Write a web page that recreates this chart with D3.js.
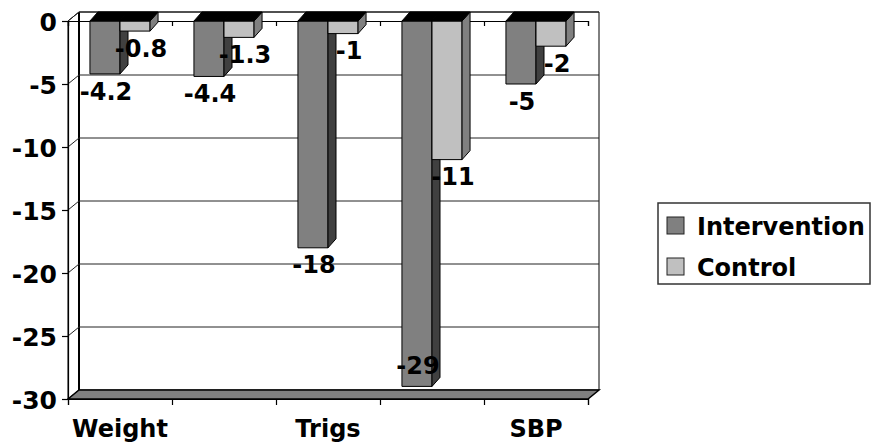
<!DOCTYPE html>
<html>
<head>
<meta charset="utf-8">
<script src="https://cdn.jsdelivr.net/npm/d3@7"></script>
<style>
  html, body { margin: 0; padding: 0; background: #fff; }
  svg { display: block; }
  text { font-family: "DejaVu Sans", Verdana, sans-serif; font-weight: bold; fill: #000; }
</style>
</head>
<body>
<script>
// ---- data ----
const categories = ["Weight", "", "Trigs", "", "SBP"];   // only every other label is shown
const seriesNames = ["Intervention", "Control"];
const intervention = [-4.2, -4.4, -18, -29, -5];
const control = [-0.8, -1.3, -1, -11, -2];
const yTicks = [0, -5, -10, -15, -20, -25, -30];

// ---- layout ----
const W = 872, H = 447;
const plot = { left: 68, right: 588, top: 21, bottom: 399 };
const wall = { dx: 11, dy: -9 };
const depth = { dx: 8, dy: -9 };
const fontSize = 24;
const fmt = v => String(v);   // plain hyphen-minus as in the original

const svg = d3.select("body").append("svg").attr("width", W).attr("height", H);

const y = d3.scaleLinear().domain([d3.min(yTicks), d3.max(yTicks)]).range([plot.bottom, plot.top]);
const idx = d3.range(categories.length);
const x = d3.scaleBand().domain(idx).range([plot.left, plot.right]);
const xEdge = d3.scaleLinear().domain([0, categories.length]).range([plot.left, plot.right]);
const xs = d3.scaleBand().domain(seriesNames).range([0, x.bandwidth()]).paddingInner(0).paddingOuter(0.73);
const color = d3.scaleOrdinal().domain(seriesNames).range(["#808080", "#c0c0c0"]);
const sideColor = d3.scaleOrdinal().domain(seriesNames).range(["#404040", "#808080"]);

const yMin = d3.min(yTicks), yMax = d3.max(yTicks);
const poly = pts => "M" + pts.map(p => p.join(",")).join("L") + "Z";

// ---- walls ----
const bx0 = plot.left + wall.dx, bx1 = plot.right + wall.dx;
const byTop = y(yMax) + wall.dy, byBot = y(yMin) + wall.dy;
svg.append("path").attr("d", poly([[bx0, byTop], [bx1, byTop], [bx1, byBot], [bx0, byBot]]))
  .attr("fill", "#fff").attr("stroke", "#000").attr("stroke-width", 1);
svg.append("path").attr("d", poly([[plot.left, y(yMax)], [bx0, byTop], [bx0, byBot], [plot.left, y(yMin)]]))
  .attr("fill", "#fff").attr("stroke", "#000").attr("stroke-width", 1);
svg.append("line").attr("x1", bx0).attr("x2", bx0).attr("y1", byTop).attr("y2", byBot)
  .attr("stroke", "#000").attr("stroke-width", 2);

// gridlines (back wall + side wall)
const grid = svg.append("g").attr("stroke", "#222").attr("stroke-width", 1).attr("fill", "none");
yTicks.filter(v => v !== yMin).forEach(v => {
  grid.append("path").attr("d", `M${plot.left},${y(v)}L${bx0},${y(v) + wall.dy}H${bx1}`);
});

// floor
svg.append("path").attr("d", poly([[plot.left, y(yMin)], [plot.right, y(yMin)], [bx1, byBot], [bx0, byBot]]))
  .attr("fill", "#808080").attr("stroke", "#000").attr("stroke-width", 1.5);

// zero line on the front plane with category ticks
svg.append("g").attr("transform", `translate(0,${y(0)})`)
  .call(d3.axisBottom(xEdge).ticks(categories.length).tickSize(5).tickSizeOuter(5).tickFormat(""))
  .call(g => g.selectAll("path,line").attr("stroke", "#000").attr("stroke-width", 1.2));

// bottom category axis
svg.append("g").attr("transform", `translate(0,${y(yMin)})`)
  .call(d3.axisBottom(xEdge).ticks(categories.length).tickSize(6).tickSizeOuter(6).tickFormat(""))
  .call(g => g.selectAll("path,line").attr("stroke", "#000").attr("stroke-width", 1.2));
svg.append("g").selectAll("text").data(idx.filter(i => categories[i] !== ""))
  .join("text")
  .attr("x", i => x(i) + x.bandwidth() / 2)
  .attr("y", y(yMin) + 38)
  .attr("text-anchor", "middle")
  .attr("font-size", fontSize)
  .text(i => categories[i]);

// y axis
svg.append("g").attr("transform", `translate(${plot.left},0)`)
  .call(d3.axisLeft(y).tickValues(yTicks).tickSize(6).tickSizeOuter(0).tickPadding(5).tickFormat(fmt))
  .call(g => g.selectAll("path,line").attr("stroke", "#000").attr("stroke-width", 1.2))
  .call(g => g.selectAll("text").attr("font-size", fontSize + 1).attr("font-family", "DejaVu Sans").attr("font-weight", "bold").attr("fill", "#000").attr("dy", "0.36em"));

// ---- bars ----
const series = [intervention, control];
const barsG = svg.append("g").attr("stroke", "#000").attr("stroke-width", 1);
idx.forEach(i => {
  seriesNames.forEach((s, k) => {
    const v = series[k][i];
    const x0 = x(i) + xs(s), x1 = x0 + xs.bandwidth();
    const y0 = y(0), y1 = y(v);
    const top = Math.min(y0, y1), bot = Math.max(y0, y1);
    barsG.append("path").attr("d", poly([[x0, top], [x1, top], [x1, bot], [x0, bot]])).attr("fill", color(s));
    barsG.append("path").attr("d", poly([[x1, top], [x1 + depth.dx, top + depth.dy], [x1 + depth.dx, bot + depth.dy], [x1, bot]]))
      .attr("fill", sideColor(s));
    barsG.append("path").attr("d", poly([[x0, top], [x1, top], [x1 + depth.dx, top + depth.dy], [x0 + depth.dx, top + depth.dy]]))
      .attr("fill", "#000");
  });
});

// ---- value labels ----
const labelsG = svg.append("g");
idx.forEach(i => {
  seriesNames.forEach((s, k) => {
    const v = series[k][i];
    const cx = x(i) + xs(s) + xs.bandwidth() / 2 + (k === 1 ? 6 : 1);
    let cy = y(v) + 17;
    if (cy + 12 > byBot) cy = y(v) - 21;
    labelsG.append("text")
      .attr("x", cx).attr("y", cy).attr("dy", "0.36em")
      .attr("text-anchor", "middle").attr("font-size", fontSize)
      .text(fmt(v));
  });
});

// ---- legend ----
const lg = svg.append("g").attr("transform", "translate(658,203)");
lg.append("rect").attr("width", 212).attr("height", 81).attr("fill", "#fff")
  .attr("stroke", "#333").attr("stroke-width", 1.5);
seriesNames.forEach((s, k) => {
  const row = lg.append("g").attr("transform", `translate(9,${23 + k * 41})`);
  row.append("rect").attr("x", 0).attr("y", -9).attr("width", 17).attr("height", 17)
    .attr("fill", color(s)).attr("stroke", "#222").attr("stroke-width", 1);
  row.append("text").attr("x", 30).attr("y", 0).attr("dy", "0.36em").attr("font-size", fontSize).text(s);
});
</script>
</body>
</html>
